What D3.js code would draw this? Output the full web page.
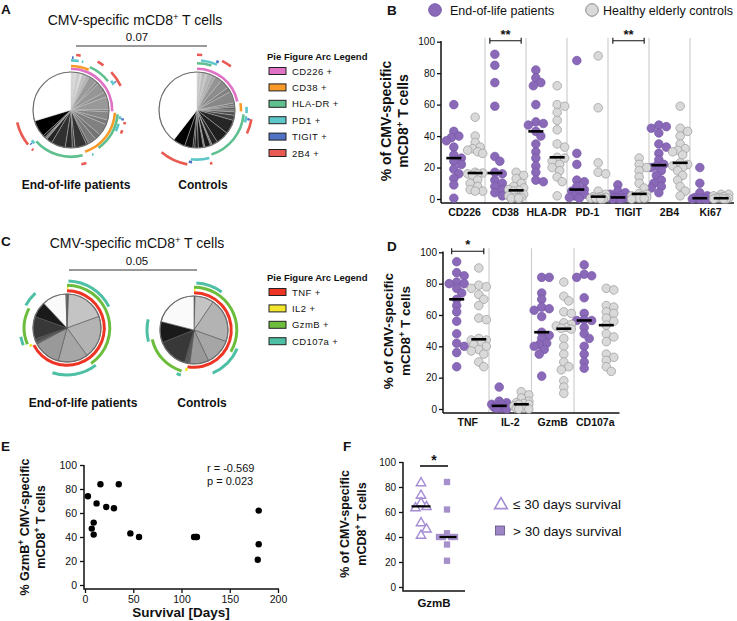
<!DOCTYPE html>
<html>
<head>
<meta charset="utf-8">
<script src="https://cdn.jsdelivr.net/npm/d3@7"></script>
<style>
body { margin: 0; background: #fff; }
text { font-family: "Liberation Sans", Arial, Helvetica, sans-serif; fill: #111; }
</style>
</head>
<body>
<div id="container"></div>
<script>
// ---------------- data ----------------
// panel B: % of CMV-specific mCD8+ T cells
var bMarkers = ["CD226", "CD38", "HLA-DR", "PD-1", "TIGIT", "2B4", "Ki67"];
var bEol = [
  [60, 43, 40, 39, 37, 33, 28, 26, 24, 22, 19, 16, 13, 9, 0.5],
  [92, 85, 74, 59, 27, 24, 17, 16, 12, 10, 8, 6, 4, 2],
  [82, 77, 74, 72, 60, 49, 48, 47, 43, 40, 35, 30, 26, 21, 17, 12, 11],
  [88, 29, 22, 12, 11, 8, 6, 5, 4, 3, 2, 1, 0.5],
  [9, 5, 4, 3, 2, 1, 1, 1, 0.5, 0.5, 0, 0],
  [47, 46, 45, 42, 35, 33, 29, 25, 22, 21, 20, 18, 15, 12, 10, 8, 7, 4],
  [20, 10, 4, 2, 1, 0.5, 0.5, 0, 0, 0, 0]
];
var bCtrl = [
  [52, 40, 36, 33, 32, 31, 30, 29, 17, 16.5, 16, 16, 15, 12, 10, 8, 6, 5, 5],
  [17, 15, 13, 10, 8, 7, 6, 5.5, 5, 3, 2, 1, 1, 0.5, 0.5],
  [72, 60, 59, 55, 50, 44, 35, 33, 26.5, 26, 24, 22, 20, 18, 14, 11, 2],
  [91, 58, 23, 17, 16, 5, 3, 1.5, 1.5, 1, 1, 0.5, 0.5, 0, 0],
  [26, 22, 20, 18, 14, 10, 7, 3.5, 3, 2, 2, 1, 1, 0.5, 0.5, 0],
  [59, 45, 43, 40, 35, 32, 31, 30, 28, 23, 22, 21, 20, 18, 15, 12, 8, 5, 2],
  [3, 3, 2, 1.5, 1, 0.5, 0.5, 0.5, 0, 0, 0]
];
var bSig = [["CD38", "**"], ["TIGIT", "**"]];

// panel D
var dMarkers = ["TNF", "IL-2", "GzmB", "CD107a"];
var dEol = [
  [94, 87, 85, 81, 80, 80, 77, 74, 70, 66, 62, 56, 48, 42, 40, 36, 27],
  [14, 5, 4, 3, 3, 2.5, 2, 1.5, 1, 1, 0.5, 0.5, 0],
  [84, 84, 74, 70, 65, 64, 63, 59, 49, 47, 45, 42, 41, 40, 38, 35, 21],
  [92, 86, 85, 84, 71, 61, 57, 56.5, 56.5, 52, 48, 45, 40, 35, 30, 26]
];
var dCtrl = [
  [90, 79, 78, 77, 73, 70, 66, 58, 57, 45, 44, 44, 42, 41, 40, 38, 37, 35, 30, 27],
  [11, 9, 7, 5, 4, 3.5, 3, 3, 2, 1, 1, 0.5, 0.5, 0, 0],
  [81, 72, 69, 62, 61, 55, 54, 53, 52, 51.5, 51, 45, 40, 35, 30, 27, 25, 18, 14, 10],
  [77, 76, 66, 65, 62, 61, 58, 56, 53.5, 48, 46, 43, 35, 33, 31, 27, 24]
];
var dSig = [["TNF", "*"]];

// panel E / F: survival vs GzmB+
var eSurvival = [3, 7, 9, 9, 12, 16, 22, 30, 35, 47, 56, 113, 115, 116, 179, 180, 180];
var eGzmB = [74, 47, 52, 42, 68, 84, 65, 64, 84, 43, 40, 40, 40, 40, 21, 62, 34];
var eStats = ["r = -0.569", "p = 0.023"];
var fGroups = ["\u2264 30 days survival", "> 30 days survival"];

// panel A: SPICE pies, slice % and shade (0 = white, 1 = black)
var aMarkers = ["CD226 +", "CD38 +", "HLA-DR +", "PD1 +", "TIGIT +", "2B4 +"];
var aEolSlices = [0.6, 1.0, 0.8, 1.4, 1.2, 1.6, 1.5, 3.5, 1.2, 4.5, 2.0, 5.5, 1.0, 3.5, 2.0, 5.0, 2.5, 3.5,
                  1.0, 5.0, 1.2, 3.0, 6.0, 2.5, 0.6, 0.5, 1.0, 7.2, 29.7];
var aEolShades = [0.08, 0.15, 0.1, 0.2, 0.12, 0.25, 0.3, 0.4, 0.45, 0.41, 0.44, 0.4, 0.5, 0.47, 0.52, 0.5, 0.55, 0.52,
                  0.72, 0.8, 0.76, 0.83, 0.81, 0.86, 0.6, 0.72, 0.9, 1.0, 0];
var aEolArcs = [
  [[0, 25.5]],
  [[0, 6.6], [26, 44.8]],
  [[6.6, 14.5], [26.5, 40], [46, 63.3]],
  [[0, 2.5], [3.5, 4], [15, 16.5], [27, 28], [29.5, 32], [42.5, 43], [63.2, 64.5]],
  [[0.3, 0.8], [15.8, 16.2], [27.5, 28.2], [63.6, 64]],
  [[1.5, 2.8], [8, 10], [13, 17.8], [28.5, 29.2], [31, 32], [45.5, 47], [62, 62.5], [64.2, 71.4]]
];
var aCtrlSlices = [0.5, 1.0, 0.7, 1.3, 1.0, 2.0, 1.5, 3.0, 4.0, 2.0, 5.0, 1.0, 0.8, 1.2, 0.8, 1.5, 2.2,
                   6.0, 5.5, 2.5, 0.7, 2.5, 0.6, 2.2, 1.5, 0.8, 3.5, 5.2, 39.5];
var aCtrlShades = [0.1, 0.2, 0.15, 0.28, 0.22, 0.3, 0.35, 0.42, 0.45, 0.5, 0.47, 0.55, 0.6, 0.65, 0.58, 0.7, 0.75,
                   0.85, 0.88, 0.85, 0.6, 0.9, 0.65, 0.92, 0.88, 0.95, 0.95, 1.0, 0];
var aCtrlArcs = [
  [[0, 21.7]],
  [[22.5, 25.5]],
  [[0, 5], [26.5, 45]],
  [[1.3, 6.6], [24, 26], [27, 29], [46, 52]],
  [[6, 6.8], [27.5, 28.2], [51.5, 52.5]],
  [[0, 1.5], [7.5, 10.5], [27.7, 32], [45.5, 46.2], [52.8, 61.1]]
];

// panel C
var cMarkers = ["TNF +", "IL2 +", "GzmB +", "CD107a +"];
var cEolSlices = [0.8, 18.7, 20.5, 14.2, 13.0, 1.0, 1.5, 10.8, 7.5, 11.5, 0.5];
var cEolShades = [0.55, 0.23, 0.3, 0.35, 0.4, 0.6, 0.7, 0.78, 0.9, 0.02, 0.5];
var cEolArcs = [
  [[0, 67.4]],
  [[0, 0.6], [67.4, 68.3]],
  [[0, 40.5], [68.8, 82.6]],
  [[0.5, 17.5], [39.5, 55], [69, 72], [83, 88.3]]
];
var cCtrlSlices = [0.5, 9.0, 21.0, 12.5, 9.0, 0.8, 0.7, 1.0, 14.5, 10.0, 21.0];
var cCtrlShades = [0.55, 0.23, 0.3, 0.35, 0.4, 0.6, 0.7, 0.65, 0.78, 0.9, 0.02];
var cCtrlArcs = [
  [[0, 52.8]],
  [[0, 0.6], [52.5, 53.5]],
  [[0, 33.5], [54.7, 71.5]],
  [[0.8, 10], [31.5, 43.5], [54.5, 56], [71, 78.6]]
];

// ---------------- setup ----------------
var PURPLE = "#8b69b9", GRAYDOT = "#d9d9d9";
var svg = d3.select("#container").append("svg")
  .attr("width", 737).attr("height", 621)
  .style("background", "#fff");

var shade = d3.scaleLinear().domain([0, 1]).range(["#ffffff", "#000000"]);
var pct = d3.scaleLinear().domain([0, 100]).range([0, 2 * Math.PI]);

// text with ^+^ superscripts
function rich(x, y, str, size, weight, anchor, rotate) {
  var t = svg.append("text")
    .attr("transform", "translate(" + x + "," + y + ")" + (rotate ? " rotate(-90)" : ""))
    .attr("text-anchor", anchor || "middle")
    .style("font-size", size + "px")
    .style("font-weight", weight || "normal");
  str.split("^").forEach(function(p, i) {
    if (!p) return;
    var s = t.append("tspan").text(p);
    if (i % 2 == 1) {
      s.style("font-size", (size * 0.68) + "px").attr("dy", -size * 0.38);
    } else if (i > 0) {
      s.attr("dy", size * 0.38);
    }
  });
  return t;
}

function letter(x, y, s) {
  svg.append("text").attr("x", x).attr("y", y).text(s)
    .style("font-size", "13.5px").style("font-weight", "bold");
}

function drawPie(cx, cy, r, slices, shades, arcs, colors, rings, ringW, sep, sepW) {
  var g = svg.append("g").attr("transform", "translate(" + cx + "," + cy + ")");
  var pie = d3.pie().sort(null).value(function(d) { return d; });
  var arc = d3.arc().innerRadius(0).outerRadius(r);
  g.selectAll("path.slice").data(pie(slices)).enter().append("path")
    .attr("class", "slice")
    .attr("d", arc)
    .attr("fill", function(d, i) { return shade(shades[i]); })
    .attr("stroke", sep).attr("stroke-width", sepW);
  g.append("circle").attr("r", r).attr("fill", "none")
    .attr("stroke", "#6e6e6e").attr("stroke-width", 1.2);
  arcs.forEach(function(segs, m) {
    var a = d3.arc().innerRadius(rings[m] - ringW / 2).outerRadius(rings[m] + ringW / 2);
    g.selectAll(null).data(segs).enter().append("path")
      .attr("d", function(s) { return a({startAngle: pct(s[0]), endAngle: pct(s[1])}); })
      .attr("fill", colors[m]);
  });
}

function pieLegend(x, y, names, colors) {
  svg.append("text").attr("x", x - 2).attr("y", y).text("Pie Figure Arc Legend")
    .style("font-size", "9.5px").style("font-weight", "bold");
  names.forEach(function(n, i) {
    var yy = y + 11 + i * 16.4;
    svg.append("rect").attr("x", x).attr("y", yy - 3.5).attr("width", 17).attr("height", 7)
      .attr("fill", colors[i]).attr("stroke", "#222").attr("stroke-width", 1);
    svg.append("text").attr("x", x + 23).attr("y", yy + 3.5).text(n)
      .style("font-size", "9.5px").style("letter-spacing", "0.4px");
  });
}

// beeswarm layout, capped horizontal spread
function swarm(vals, cx, y, gap, step, maxOff) {
  var pts = vals.map(function(v) { return {v: v, y: y(v)}; })
    .sort(function(a, b) { return a.y - b.y; });
  var offs = [0];
  for (var k = 1; k * step <= maxOff; k++) offs.push(k * step, -k * step);
  var placed = [];
  pts.forEach(function(p) {
    var best = 0, bestD = -1;
    for (var j = 0; j < offs.length; j++) {
      var d = d3.min(placed, function(q) { return Math.hypot(q.x - (cx + offs[j]), q.y - p.y); });
      if (d === undefined || d >= gap) { best = offs[j]; bestD = Infinity; break; }
      if (d > bestD) { bestD = d; best = offs[j]; }
    }
    p.x = cx + best;
    placed.push(p);
  });
  return pts;
}

function dotPanel(markers, eol, ctrl, x, y, axisX, axisY, sig, labelSize) {
  var g = svg.append("g");
  // separators
  markers.forEach(function(m, i) {
    if (i == 0) return;
    g.append("line").attr("x1", x(m)).attr("x2", x(m))
      .attr("y1", y(100) - 4).attr("y2", axisY)
      .attr("stroke", "#cfcfcf").attr("stroke-width", 1.2);
  });
  // y axis
  var ya = g.append("g").attr("transform", "translate(" + axisX + ",0)")
    .call(d3.axisLeft(y).tickValues([0, 20, 40, 60, 80, 100]).tickSize(4).tickSizeOuter(0));
  ya.select(".domain").remove();
  ya.selectAll("line").attr("stroke", "#111").attr("stroke-width", 1.3);
  ya.selectAll("text").style("font-size", "10px").attr("x", -6)
    .style("font-family", '"Liberation Sans", Arial, sans-serif');
  g.append("line").attr("x1", axisX).attr("x2", axisX).attr("y1", y(100) - 0.7).attr("y2", axisY)
    .attr("stroke", "#111").attr("stroke-width", 1.5);
  g.append("line").attr("x1", axisX).attr("x2", x.range()[1] + 3).attr("y1", axisY).attr("y2", axisY)
    .attr("stroke", "#111").attr("stroke-width", 1.5);
  // category labels
  markers.forEach(function(m) {
    g.append("text").attr("x", x(m) + x.bandwidth() / 2).attr("y", axisY + 13)
      .attr("text-anchor", "middle").text(m)
      .style("font-size", labelSize + "px").style("font-weight", "bold");
  });
  // dots
  var off = x.bandwidth() * 0.26;
  [[eol, -off, PURPLE, "#7657a6"], [ctrl, off, GRAYDOT, "#9a9a9a"]].forEach(function(s) {
    markers.forEach(function(m, i) {
      var cx = x(m) + x.bandwidth() / 2 + s[1];
      var pts = swarm(s[0][i], cx, y, 6.2, 2.5, 9);
      g.selectAll(null).data(pts).enter().append("circle")
        .attr("cx", function(d) { return d.x; })
        .attr("cy", function(d) { return d.y; })
        .attr("r", 4.3)
        .attr("fill", s[2]).attr("stroke", s[3]).attr("stroke-width", 0.7);
      var med = d3.median(s[0][i]);
      g.append("line").attr("x1", cx - 7.5).attr("x2", cx + 7.5)
        .attr("y1", y(med)).attr("y2", y(med))
        .attr("stroke", "#000").attr("stroke-width", 2.6);
    });
  });
  // significance brackets
  sig.forEach(function(sg) {
    var c = x(sg[0]) + x.bandwidth() / 2, yy = y(100) - 1;
    var x1 = c - off - 5, x2 = c + off + 5;
    g.append("path")
      .attr("d", "M" + x1 + "," + (yy - 3) + "V" + (yy + 3) + "M" + x1 + "," + yy + "H" + x2 +
                 "M" + x2 + "," + (yy - 3) + "V" + (yy + 3))
      .attr("fill", "none").attr("stroke", "#111").attr("stroke-width", 1.1);
    g.append("text").attr("x", c).attr("y", yy - 2).attr("text-anchor", "middle")
      .text(sg[1]).style("font-size", "13px").style("font-weight", "bold");
  });
}

// ---------------- panel A ----------------
letter(1, 14, "A");
rich(135, 25, "CMV-specific mCD8^+^ T cells", 14);
svg.append("text").attr("x", 137).attr("y", 41).attr("text-anchor", "middle").text("0.07")
  .style("font-size", "11.5px");
svg.append("line").attr("x1", 76).attr("x2", 207).attr("y1", 46).attr("y2", 46)
  .attr("stroke", "#777").attr("stroke-width", 1.6);
var aColors = ["#df72c4", "#f89a2a", "#5fbf8f", "#5cc6c9", "#4f72c4", "#e85a52"];
var aRings = [41.2, 44, 46.8, 49.6, 52.4, 55.2];
drawPie(71, 110, 38, aEolSlices, aEolShades, aEolArcs, aColors, aRings, 2.6, "#c4c4c4", 0.4);
drawPie(197, 110, 38, aCtrlSlices, aCtrlShades, aCtrlArcs, aColors, aRings, 2.6, "#c4c4c4", 0.4);
rich(76, 189, "End-of-life patients", 12, "bold");
rich(203, 189, "Controls", 12, "bold");
pieLegend(269, 60, aMarkers, aColors);

// ---------------- panel C ----------------
letter(1, 246, "C");
rich(137, 248, "CMV-specific mCD8^+^ T cells", 14);
svg.append("text").attr("x", 137).attr("y", 265).attr("text-anchor", "middle").text("0.05")
  .style("font-size", "11.5px");
svg.append("line").attr("x1", 69).attr("x2", 197).attr("y1", 270).attr("y2", 270)
  .attr("stroke", "#777").attr("stroke-width", 1.6);
var cColors = ["#ee3424", "#f2e52b", "#6dbd3d", "#4dbfa5"];
var cRings = [37.3, 40.2, 42.8, 47];
drawPie(67, 328, 34, cEolSlices, cEolShades, cEolArcs, cColors, cRings, 3, "#555", 0.6);
drawPie(194, 330, 34, cCtrlSlices, cCtrlShades, cCtrlArcs, cColors, cRings, 3, "#555", 0.6);
rich(83, 407, "End-of-life patients", 12, "bold");
rich(202, 407, "Controls", 12, "bold");
pieLegend(269, 281, cMarkers, cColors);

// ---------------- panel B ----------------
letter(387, 15, "B");
svg.append("circle").attr("cx", 435).attr("cy", 10).attr("r", 6.3)
  .attr("fill", PURPLE).attr("stroke", "#7657a6");
svg.append("text").attr("x", 450).attr("y", 15).text("End-of-life patients").style("font-size", "12.5px");
svg.append("circle").attr("cx", 592).attr("cy", 10).attr("r", 6.3)
  .attr("fill", GRAYDOT).attr("stroke", "#8a8a8a");
svg.append("text").attr("x", 603).attr("y", 15).text("Healthy elderly controls").style("font-size", "12.5px");

var bY = d3.scaleLinear().domain([0, 100]).range([199, 41.7]);
var bX = d3.scaleBand().domain(bMarkers).range([444, 731]);
dotPanel(bMarkers, bEol, bCtrl, bX, bY, 441, 203, bSig, 10.5);
rich(391, 121, "% of CMV-specific", 14, "bold", "middle", true);
rich(408, 121, "mCD8^+^ T cells", 14, "bold", "middle", true);

// ---------------- panel D ----------------
letter(387, 251, "D");
var dY = d3.scaleLinear().domain([0, 100]).range([409, 252.3]);
var dX = d3.scaleBand().domain(dMarkers).range([446.5, 616.5]);
dotPanel(dMarkers, dEol, dCtrl, dX, dY, 443, 413, dSig, 10.5);
rich(393, 331, "% of CMV-specific", 13.5, "bold", "middle", true);
rich(410, 331, "mCD8^+^ T cells", 13.5, "bold", "middle", true);

// ---------------- panel E ----------------
letter(1, 451, "E");
var eX = d3.scaleLinear().domain([0, 200]).range([85, 278]);
var eY = d3.scaleLinear().domain([0, 100]).range([585, 465]);
var eg = svg.append("g");
var eya = eg.append("g").attr("transform", "translate(84,0)")
  .call(d3.axisLeft(eY).ticks(5).tickSize(4).tickSizeOuter(0));
var exa = eg.append("g").attr("transform", "translate(0,589)")
  .call(d3.axisBottom(eX).ticks(4).tickSize(4).tickSizeOuter(0));
[eya, exa].forEach(function(a) {
  a.select(".domain").remove();
  a.selectAll("line").attr("stroke", "#111").attr("stroke-width", 1.3);
  a.selectAll("text").style("font-size", "10.5px")
    .style("font-family", '"Liberation Sans", Arial, sans-serif');
});
eg.append("path").attr("d", "M84," + eY(100) + "V589H" + (eX(200) + 1))
  .attr("fill", "none").attr("stroke", "#111").attr("stroke-width", 1.5);
eg.selectAll("circle").data(eSurvival).enter().append("circle")
  .attr("cx", function(d) { return eX(d); })
  .attr("cy", function(d, i) { return eY(eGzmB[i]); })
  .attr("r", 3.2).attr("fill", "#000");
eStats.forEach(function(s, i) {
  svg.append("text").attr("x", 207).attr("y", 472 + i * 13).text(s).style("font-size", "11px");
});
svg.append("text").attr("x", 181).attr("y", 617).attr("text-anchor", "middle")
  .text("Survival [Days]").style("font-size", "13.5px").style("font-weight", "bold");
rich(29, 527, "% GzmB^+^ CMV-specific", 12.5, "bold", "middle", true);
rich(45, 527, "mCD8^+^ T cells", 12.5, "bold", "middle", true);

// ---------------- panel F ----------------
letter(343, 451, "F");
var fY = d3.scaleLinear().domain([0, 100]).range([587, 462]);
var fg = svg.append("g");
var fya = fg.append("g").attr("transform", "translate(403,0)")
  .call(d3.axisLeft(fY).ticks(5).tickSize(4).tickSizeOuter(0));
fya.select(".domain").remove();
fya.selectAll("line").attr("stroke", "#111").attr("stroke-width", 1.3);
fya.selectAll("text").style("font-size", "10px")
  .style("font-family", '"Liberation Sans", Arial, sans-serif');
fg.append("path").attr("d", "M403," + fY(100) + "V591H465")
  .attr("fill", "none").attr("stroke", "#111").attr("stroke-width", 1.5);
fg.append("text").attr("x", 434).attr("y", 607).attr("text-anchor", "middle")
  .text("GzmB").style("font-size", "11.5px").style("font-weight", "bold");

var fShort = eGzmB.filter(function(v, i) { return eSurvival[i] <= 30; });
var fLong = eGzmB.filter(function(v, i) { return eSurvival[i] > 30; });
var tri = d3.symbol().type(d3.symbolTriangle).size(38);
var sq = d3.symbol().type(d3.symbolSquare).size(40);
swarm(fShort, 421, fY, 7, 5.5, 6).forEach(function(p) {
  fg.append("path").attr("d", tri).attr("transform", "translate(" + p.x + "," + (p.y + 1) + ")")
    .attr("fill", "#fff").attr("stroke", "#a48bd3").attr("stroke-width", 1.4);
});
swarm(fLong, 447, fY, 7, 4, 8).forEach(function(p) {
  fg.append("path").attr("d", sq).attr("transform", "translate(" + p.x + "," + p.y + ")")
    .attr("fill", "#a590cc");
});
[[fShort, 421, 9.5], [fLong, 448, 8.5]].forEach(function(m) {
  var med = d3.median(m[0]);
  fg.append("line").attr("x1", m[1] - m[2]).attr("x2", m[1] + m[2])
    .attr("y1", fY(med)).attr("y2", fY(med)).attr("stroke", "#000").attr("stroke-width", 2.2);
});
fg.append("line").attr("x1", 420).attr("x2", 448).attr("y1", 466).attr("y2", 466)
  .attr("stroke", "#000").attr("stroke-width", 1.5);
fg.append("text").attr("x", 434).attr("y", 465).attr("text-anchor", "middle").text("*")
  .style("font-size", "14px").style("font-weight", "bold");
rich(349, 524, "% of CMV-specific", 12.5, "bold", "middle", true);
rich(366, 524, "mCD8^+^ T cells", 12.5, "bold", "middle", true);

// legend F
svg.append("path").attr("d", d3.symbol().type(d3.symbolTriangle).size(70))
  .attr("transform", "translate(501,505)")
  .attr("fill", "#fff").attr("stroke", "#a48bd3").attr("stroke-width", 1.6);
svg.append("rect").attr("x", 495.5).attr("y", 526).attr("width", 9).attr("height", 9)
  .attr("fill", "#9d86c6").attr("stroke", "#5f4e86").attr("stroke-width", 0.8);
fGroups.forEach(function(s, i) {
  svg.append("text").attr("x", 513).attr("y", 509 + i * 27).text(s).style("font-size", "13.5px");
});
</script>
</body>
</html>
